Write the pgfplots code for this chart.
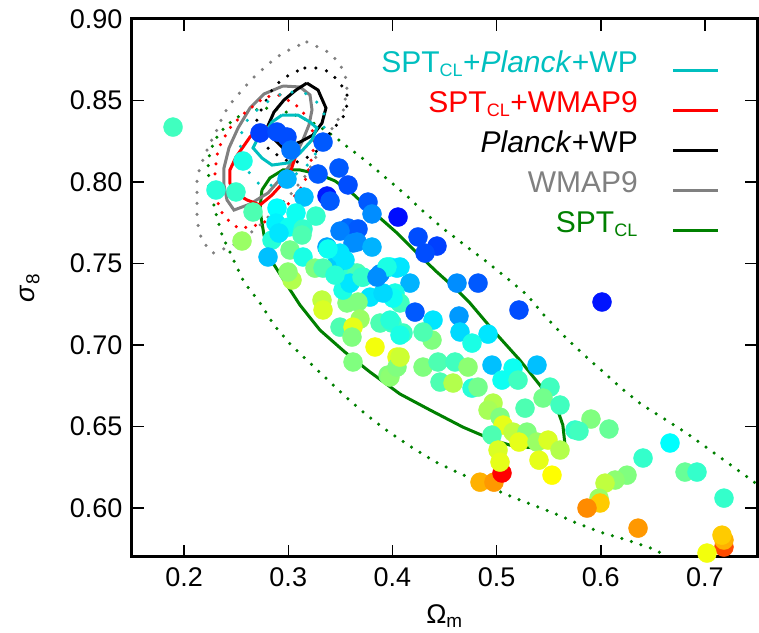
\documentclass[border=0pt]{standalone}
\usepackage{fontspec}
\setmainfont{Liberation Sans}
\usepackage{pgfplots}
\pgfplotsset{compat=1.18}
\definecolor{cyanc}{RGB}{0,191,191}
\definecolor{grayc}{RGB}{128,128,128}
\definecolor{greenc}{RGB}{0,128,0}
\definecolor{redc}{RGB}{255,0,0}
\newcommand{\cl}{\textsubscript{\fontsize{18}{18}\selectfont CL}}
\begin{document}
\begin{tikzpicture}
\begin{axis}[
  scale only axis, width=625pt, height=538pt,
  xmin=0.15, xmax=0.75, ymin=0.57, ymax=0.90,
  xtick={0.2,0.3,0.4,0.5,0.6,0.7},
  ytick={0.60,0.65,0.70,0.75,0.80,0.85,0.90},
  tick align=inside, major tick length=12pt,
  every tick/.style={line width=1.5pt, black},
  axis line style={line width=3pt},
  axis on top,
  /pgf/number format/assume math mode=true,
  ticklabel style={font=\fontsize{27}{32}\selectfont},
  yticklabel style={/pgf/number format/fixed, /pgf/number format/fixed zerofill, /pgf/number format/precision=2, xshift=-6pt},
  xticklabel style={/pgf/number format/fixed, /pgf/number format/fixed zerofill, /pgf/number format/precision=1, yshift=-7pt},
  xlabel={Ω\textsubscript{m}}, ylabel={\textit{σ}\textsubscript{8}},
  label style={font=\fontsize{27}{32}\selectfont},
  xlabel style={at={(axis description cs:0.5,-0.1245)}, anchor=base},
  ylabel style={at={(axis description cs:-0.163,0.5)}, anchor=center},
  colormap={spt}{rgb255(0cm)=(0,0,255); rgb255(1cm)=(0,255,255); rgb255(2cm)=(255,255,0); rgb255(3cm)=(255,0,0)},
  point meta min=0, point meta max=3,
  legend image code/.code={\path (0pt,0pt); \draw[#1] (2pt,-6.5pt) -- (47pt,-6.5pt);},
  legend cell align=right, legend plot pos=right,
  legend style={at={(rel axis cs:1,1)}, anchor=north east, xshift=-37pt, yshift=-25pt,
    draw=none, fill=none, inner sep=0pt, row sep=0pt, column sep=32pt,
    font=\fontsize{30}{36}\selectfont,
    nodes={inner xsep=0pt, inner ysep=6pt, text height=22pt, text depth=6pt}},
]
\addplot[scatter, only marks, mark=*, mark size=9.5pt, scatter src=explicit,
  scatter/use mapped color={draw=mapped color, fill=mapped color}, forget plot]
  table[x=x, y=y, meta=c] {
x y c
0.1894 0.8337 1.25
0.2729 0.8301 0.25
0.2892 0.8307 0.30
0.2988 0.8276 0.30
0.3026 0.8196 0.45
0.3334 0.8245 0.35
0.2566 0.8129 1.10
0.2306 0.7951 1.15
0.2498 0.7939 1.20
0.2988 0.8018 0.70
0.3286 0.8049 0.35
0.3487 0.8086 0.35
0.3574 0.7982 0.30
0.3372 0.7914 0.10
0.3401 0.7883 0.35
0.3766 0.7877 0.35
0.3804 0.7804 0.55
0.4054 0.7785 0.05
0.3151 0.7908 0.75
0.2892 0.7840 1.00
0.2662 0.7816 1.30
0.3074 0.7810 1.05
0.3266 0.7791 1.20
0.2882 0.7748 0.95
0.3007 0.7724 1.05
0.3142 0.7712 1.20
0.3574 0.7718 0.40
0.3670 0.7712 0.35
0.3497 0.7699 0.50
0.3660 0.7632 0.55
0.3372 0.7601 0.65
0.2556 0.7638 1.60
0.2844 0.7644 1.15
0.4246 0.7663 0.30
0.4428 0.7607 0.25
0.4313 0.7564 0.30
0.3622 0.7626 0.55
0.3804 0.7601 0.70
0.4620 0.7380 0.55
0.4822 0.7380 0.35
0.5215 0.7215 0.30
0.6012 0.7264 0.08
0.4169 0.7380 0.70
0.4073 0.7479 0.90
0.3977 0.7479 1.00
0.3881 0.7436 0.55
0.3718 0.7417 1.10
0.3593 0.7448 1.20
0.3468 0.7503 0.80
0.3497 0.7564 0.90
0.3382 0.7589 1.05
0.2806 0.7540 0.75
0.2911 0.7687 0.90
0.3017 0.7583 1.45
0.3132 0.7675 1.30
0.3142 0.7540 1.10
0.3036 0.7399 1.70
0.2998 0.7448 1.55
0.3257 0.7472 1.50
0.3334 0.7472 1.30
0.3660 0.7442 1.30
0.3785 0.7294 0.90
0.4044 0.7472 0.90
0.4025 0.7319 1.10
0.3564 0.7258 1.50
0.3670 0.7264 1.50
0.3324 0.7276 1.75
0.3334 0.7215 1.85
0.3497 0.7110 1.30
0.3689 0.7159 1.60
0.3622 0.7110 1.90
0.3612 0.7049 1.50
0.3833 0.6988 1.95
0.3881 0.7135 1.30
0.3996 0.7135 1.25
0.4044 0.6926 1.90
0.3958 0.6816 1.50
0.3622 0.6896 1.50
0.4102 0.7074 1.25
0.4073 0.7258 1.25
0.4006 0.7288 1.05
0.3977 0.7153 1.15
0.4217 0.7202 0.35
0.4390 0.7153 0.90
0.4639 0.7178 0.60
0.4649 0.7080 0.85
0.4918 0.7067 0.90
0.4764 0.7012 1.10
0.4380 0.7031 1.50
0.4294 0.6865 1.50
0.4438 0.6896 1.30
0.4601 0.6896 1.25
0.4726 0.6865 1.55
0.4956 0.6877 0.75
0.5158 0.6859 1.05
0.5388 0.6877 0.75
0.5052 0.6785 1.05
0.5206 0.6785 1.25
0.4457 0.6773 1.30
0.4582 0.6767 1.70
0.4764 0.6736 1.15
0.4822 0.6742 1.45
0.5513 0.6742 1.25
0.5446 0.6675 1.45
0.5609 0.6632 1.25
0.5273 0.6613 1.30
0.4966 0.6644 1.70
0.4918 0.6601 1.65
0.5033 0.6558 1.50
0.5062 0.6509 1.90
0.4956 0.6448 1.30
0.5158 0.6466 1.75
0.5292 0.6466 1.50
0.5215 0.6405 1.90
0.5388 0.6405 1.60
0.5494 0.6417 1.85
0.5609 0.6356 1.70
0.5014 0.6356 1.85
0.5753 0.6479 1.20
0.5906 0.6546 1.50
0.5791 0.6472 1.25
0.6079 0.6485 1.40
0.6665 0.6399 1.00
0.6406 0.6307 1.20
0.6809 0.6221 1.40
0.6924 0.6221 1.20
0.7183 0.6061 1.20
0.6252 0.6202 1.50
0.6137 0.6172 1.55
0.6041 0.6153 1.75
0.5983 0.6061 1.60
0.5993 0.6031 2.20
0.5868 0.6000 2.45
0.6358 0.5877 2.40
0.7183 0.5761 2.70
0.7183 0.5804 2.30
0.7164 0.5834 2.20
0.7020 0.5724 1.95
0.4841 0.6159 2.30
0.4975 0.6159 2.40
0.5052 0.6215 3.00
0.5033 0.6282 1.90
0.5532 0.6202 2.00
0.5407 0.6294 1.90
0.3977 0.6804 1.55
0.4044 0.6865 1.50
0.4073 0.7061 1.10
0.4073 0.6926 1.80
0.4294 0.7080 1.30
0.3526 0.7337 1.10
0.3593 0.7380 0.90
0.3708 0.7417 1.20
0.3948 0.7479 1.10
0.3910 0.7319 0.85
0.3852 0.7417 0.55
0.3545 0.7521 0.90
0.3449 0.7429 1.15
};
% SPT_CL dotted (2 sigma)
\addplot[greenc, line width=3.5pt, line cap=round, dash pattern=on 0pt off 10pt, forget plot] coordinates {
(0.6646,0.5699) (0.6511,0.5748) (0.6252,0.5804) (0.6022,0.5847) (0.5791,0.5902) (0.5551,0.5969)
(0.5321,0.6025) (0.5081,0.6086) (0.4860,0.6153) (0.4639,0.6215) (0.4399,0.6288) (0.4169,0.6380)
(0.3967,0.6466) (0.3766,0.6564) (0.3574,0.6669) (0.3391,0.6779) (0.3209,0.6890) (0.3026,0.7000)
(0.2863,0.7123) (0.2729,0.7258) (0.2575,0.7386) (0.2470,0.7528) (0.2364,0.7675) (0.2297,0.7828)
(0.2239,0.7982) (0.2230,0.8135) (0.2268,0.8215) (0.2326,0.8288) (0.2412,0.8350) (0.2518,0.8399)
(0.2633,0.8436) (0.2777,0.8454) (0.2921,0.8442) (0.3065,0.8411) (0.3209,0.8374) (0.3353,0.8319)
(0.3449,0.8276) (0.3545,0.8227) (0.3746,0.8129) (0.3938,0.8025) (0.4130,0.7920) (0.4313,0.7810)
(0.4505,0.7706) (0.4706,0.7607) (0.4908,0.7509) (0.5100,0.7411) (0.5292,0.7307) (0.5455,0.7184)
(0.5628,0.7067) (0.5810,0.6957) (0.6002,0.6847) (0.6185,0.6742) (0.6386,0.6638) (0.6598,0.6552)
(0.6809,0.6466) (0.7010,0.6374) (0.7222,0.6276) (0.7500,0.6147)};
% SPT_CL solid
\addplot[greenc, line width=3pt, forget plot] coordinates {
(0.2747,0.7951) (0.2824,0.8025) (0.2949,0.8074) (0.3112,0.8074) (0.3285,0.8050) (0.3448,0.8007)
(0.3611,0.7933) (0.3736,0.7859) (0.3880,0.7780) (0.4043,0.7688) (0.4235,0.7565) (0.4427,0.7448)
(0.4619,0.7338) (0.4744,0.7258) (0.4964,0.7092) (0.5223,0.6908) (0.5415,0.6755) (0.5579,0.6614)
(0.5636,0.6510) (0.5655,0.6399) (0.5540,0.6381) (0.5367,0.6369) (0.5156,0.6381) (0.4964,0.6418)
(0.4676,0.6497) (0.4360,0.6602) (0.4072,0.6700) (0.3784,0.6835) (0.3544,0.6957) (0.3304,0.7092)
(0.3112,0.7246) (0.2987,0.7369) (0.2853,0.7503) (0.2767,0.7675) (0.2728,0.7829) (0.2747,0.7951)};
% WMAP9 dotted
\addplot[grayc, line width=3.5pt, line cap=round, dash pattern=on 0pt off 11pt, forget plot] coordinates {
(0.3179,0.8859) (0.3286,0.8828) (0.3401,0.8791) (0.3487,0.8730) (0.3545,0.8663) (0.3564,0.8577)
(0.3545,0.8503) (0.3526,0.8429) (0.3429,0.8337) (0.3304,0.8196) (0.3170,0.8043) (0.3017,0.7920)
(0.2892,0.7840) (0.2729,0.7736) (0.2613,0.7675) (0.2518,0.7626) (0.2402,0.7595) (0.2277,0.7564)
(0.2181,0.7632) (0.2143,0.7699) (0.2124,0.7779) (0.2124,0.7859) (0.2124,0.7939) (0.2124,0.8012)
(0.2153,0.8092) (0.2201,0.8166) (0.2249,0.8239) (0.2316,0.8319) (0.2364,0.8393) (0.2421,0.8460)
(0.2498,0.8521) (0.2584,0.8583) (0.2662,0.8638) (0.2757,0.8693) (0.2853,0.8748) (0.2949,0.8791)
(0.3065,0.8828) (0.3179,0.8859)};
% WMAP9 solid
\addplot[grayc, line width=3pt, forget plot] coordinates {
(0.2949,0.8589) (0.3112,0.8583) (0.3209,0.8534) (0.3228,0.8442) (0.3199,0.8350) (0.3132,0.8245)
(0.3045,0.8135) (0.2940,0.8031) (0.2806,0.7933) (0.2633,0.7865) (0.2479,0.7828) (0.2412,0.7890)
(0.2383,0.7982) (0.2383,0.8086) (0.2431,0.8209) (0.2518,0.8331) (0.2633,0.8454) (0.2767,0.8540)
(0.2949,0.8589)};
% Planck+WP dotted
\addplot[black, line width=3.5pt, line cap=round, dash pattern=on 0pt off 11pt, forget plot] coordinates {
(0.3160,0.8699) (0.3286,0.8699) (0.3401,0.8675) (0.3487,0.8613) (0.3564,0.8546) (0.3564,0.8472)
(0.3526,0.8399) (0.3448,0.8337) (0.3362,0.8270) (0.3286,0.8196) (0.3189,0.8153) (0.3083,0.8123)
(0.2968,0.8135) (0.2824,0.8196) (0.2709,0.8270) (0.2680,0.8350) (0.2748,0.8454) (0.2844,0.8564)
(0.2940,0.8632) (0.3065,0.8675) (0.3160,0.8699)};
% Planck+WP solid
\addplot[black, line width=3pt, forget plot] coordinates {
(0.3179,0.8607) (0.3286,0.8564) (0.3362,0.8454) (0.3324,0.8362) (0.3237,0.8288) (0.3112,0.8245)
(0.2949,0.8209) (0.2853,0.8270) (0.2796,0.8331) (0.2863,0.8429) (0.2959,0.8503) (0.3074,0.8564)
(0.3179,0.8607)};
% SPT_CL+WMAP9 dotted
\addplot[redc, line width=3.5pt, line cap=round, dash pattern=on 0pt off 10pt, forget plot] coordinates {
(0.2921,0.8534) (0.3083,0.8466) (0.3189,0.8393) (0.3247,0.8288) (0.3237,0.8178) (0.3199,0.8086)
(0.3151,0.7988) (0.3045,0.7902) (0.2968,0.7840) (0.2872,0.7798) (0.2757,0.7748) (0.2633,0.7724)
(0.2518,0.7718) (0.2421,0.7767) (0.2345,0.7828) (0.2306,0.7920) (0.2297,0.8061) (0.2316,0.8166)
(0.2354,0.8239) (0.2440,0.8331) (0.2556,0.8411) (0.2652,0.8460) (0.2777,0.8521) (0.2921,0.8534)};
% SPT_CL+WMAP9 solid
\addplot[redc, line width=3pt, forget plot] coordinates {
(0.2680,0.8307) (0.2757,0.8337) (0.2892,0.8337) (0.2988,0.8301) (0.3045,0.8215) (0.3065,0.8147)
(0.3017,0.8055) (0.2949,0.7994) (0.2844,0.7920) (0.2729,0.7859) (0.2604,0.7890) (0.2488,0.7933)
(0.2440,0.7994) (0.2440,0.8074) (0.2498,0.8153) (0.2566,0.8215) (0.2633,0.8276) (0.2680,0.8307)};
% SPT_CL+Planck+WP dotted
\addplot[cyanc, line width=3.5pt, line cap=round, dash pattern=on 0pt off 14pt, forget plot] coordinates {
(0.3036,0.8552) (0.3160,0.8546) (0.3257,0.8503) (0.3334,0.8442) (0.3362,0.8368) (0.3304,0.8258)
(0.3257,0.8166) (0.3160,0.8086) (0.3017,0.8025) (0.2872,0.7982) (0.2748,0.7975) (0.2652,0.8025)
(0.2566,0.8135) (0.2536,0.8239) (0.2566,0.8350) (0.2652,0.8411) (0.2748,0.8472) (0.2911,0.8534)
(0.3036,0.8552)};
% SPT_CL+Planck+WP solid
\addplot[cyanc, line width=3pt, forget plot] coordinates {
(0.2940,0.8411) (0.3093,0.8411) (0.3209,0.8368) (0.3275,0.8331) (0.3228,0.8258) (0.3112,0.8178)
(0.2998,0.8117) (0.2844,0.8104) (0.2748,0.8147) (0.2662,0.8209) (0.2700,0.8258) (0.2777,0.8301)
(0.2844,0.8368) (0.2940,0.8411)};
\addlegendimage{cyanc, line width=3pt}
\addlegendentry{\textcolor{cyanc}{SPT\cl+\textit{Planck}+WP}}
\addlegendimage{redc, line width=3pt}
\addlegendentry{\textcolor{redc}{SPT\cl+WMAP9}}
\addlegendimage{black, line width=3pt}
\addlegendentry{\textit{Planck}+WP}
\addlegendimage{grayc, line width=3pt}
\addlegendentry{\textcolor{grayc}{WMAP9}}
\addlegendimage{greenc, line width=3pt}
\addlegendentry{\textcolor{greenc}{SPT\cl}}
\end{axis}
\pgfresetboundingbox
\path[use as bounding box] ([shift={(-132pt,-76pt)}]current axis.south west) rectangle ([shift={(2pt,19pt)}]current axis.north east);
\end{tikzpicture}
\end{document}
